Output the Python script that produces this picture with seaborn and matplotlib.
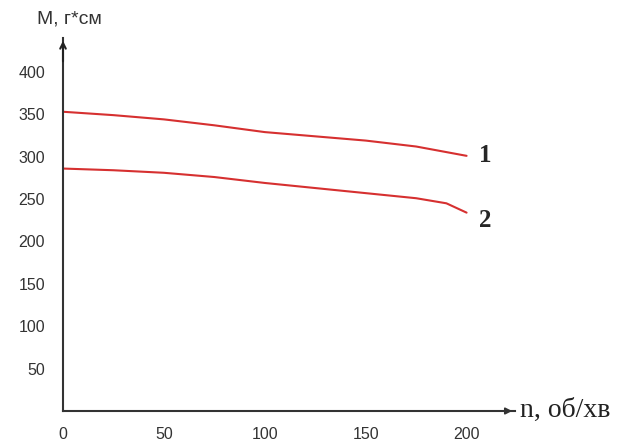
import matplotlib
matplotlib.use("Agg")
import matplotlib.pyplot as plt
import seaborn as sns
import pandas as pd

# Data
n1 = [0, 25, 50, 75, 100, 125, 150, 175, 200]
m1 = [353, 349, 344, 337, 329, 324, 319, 312, 301]
n2 = [0, 25, 50, 75, 100, 125, 150, 175, 190, 200]
m2 = [286, 284, 281, 276, 269, 263, 257, 251, 245, 234]
curve_labels = ["1", "2"]
x_ticks = [0, 50, 100, 150, 200]
y_ticks = [50, 100, 150, 200, 250, 300, 350, 400]

df = pd.concat([
    pd.DataFrame({"n": n1, "M": m1, "curve": curve_labels[0]}),
    pd.DataFrame({"n": n2, "M": m2, "curve": curve_labels[1]}),
])

sns.set_style("white")
plt.rcParams["font.family"] = ["Liberation Sans", "DejaVu Sans"]

fig = plt.figure(figsize=(6.24, 4.41), dpi=100)
W, H = 624, 441
x0, x1 = 63, 515
yb, yt = 411, 38
ax = fig.add_axes([x0 / W, (H - yb) / H, (x1 - x0) / W, (yb - yt) / H])

sns.lineplot(data=df, x="n", y="M", hue="curve", palette=["#d63030", "#d63030"],
             linewidth=1.5, legend=False, ax=ax, sort=True)

ax.set_xlim(0, 224)
ax.set_ylim(0, 440)
ax.set_xticks(x_ticks)
ax.set_yticks(y_ticks)
ax.set_xlabel("")
ax.set_ylabel("")
for s in ["top", "right"]:
    ax.spines[s].set_visible(False)
for s in ["left", "bottom"]:
    ax.spines[s].set_color("#333333")
    ax.spines[s].set_linewidth(1.5)
ax.tick_params(axis="y", direction="inout", length=10, width=1.8, color="#222222",
               labelsize=11.5, labelcolor="#333333", pad=8)
ax.tick_params(axis="x", direction="inout", length=5, width=1.2, color="#333333",
               labelsize=11.5, labelcolor="#333333", pad=9)

# axis arrows
ax.annotate("", xy=(0, 1.0), xytext=(0, 0.93), xycoords="axes fraction",
            arrowprops=dict(arrowstyle="->", color="#222222", lw=1.5), annotation_clip=False)
ax.annotate("", xy=(1.0, 0), xytext=(0.95, 0), xycoords="axes fraction",
            arrowprops=dict(arrowstyle="-|>", color="#333333", lw=1.2, mutation_scale=10),
            annotation_clip=False)

# axis titles
fig.text(37 / W, 1 - 19 / H, "М, г*см", fontsize=14, color="#333333", va="center", ha="left")
fig.text(520 / W, 1 - 410 / H, "n, об/хв", fontsize=20, color="#222222", va="center",
         ha="left", family=["Liberation Serif", "DejaVu Serif"])

# curve labels
ax.text(206, m1[-1] + 0, curve_labels[0], fontsize=18, fontweight="bold",
        family=["Liberation Serif", "DejaVu Serif"], va="center", ha="left")
ax.text(206, m2[-1] - 9, curve_labels[1], fontsize=18, fontweight="bold",
        family=["Liberation Serif", "DejaVu Serif"], va="center", ha="left")

fig.savefig("out.png", dpi=100)
